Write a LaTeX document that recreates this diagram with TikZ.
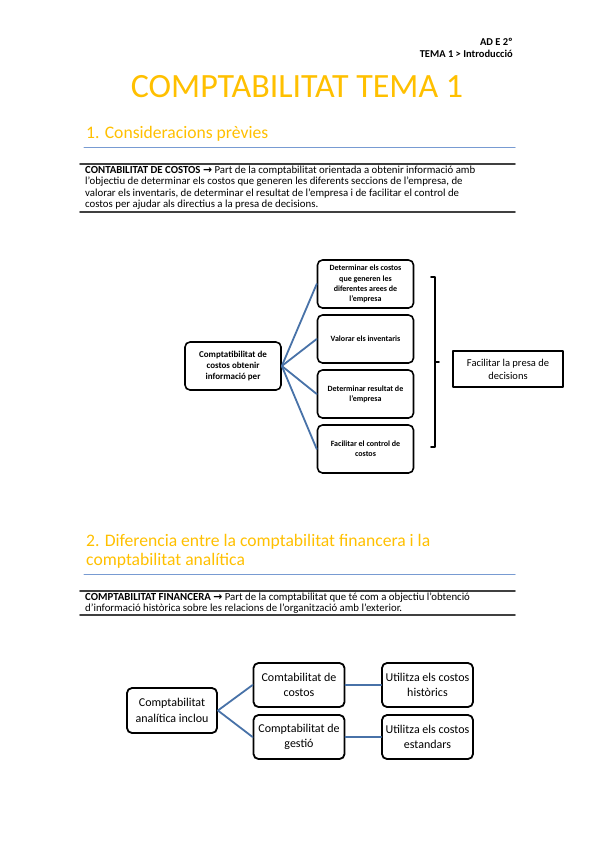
\documentclass[tikz,border=0pt]{standalone}
\usepackage{fontspec}
\setmainfont{Carlito}
\newfontfamily\symfont{DejaVu Sans}
\definecolor{titleyel}{RGB}{255,192,0}
\definecolor{rulblue}{RGB}{120,155,210}
\definecolor{linkblue}{RGB}{72,114,168}
\definecolor{rulgray}{RGB}{64,64,64}
\begin{document}
\begin{tikzpicture}[x=1pt,y=-1pt,line cap=round,line join=round,
  costbox/.style={draw=black,line width=1.6pt,rounded corners=5pt,inner sep=1pt,
    align=center,minimum width=96pt,minimum height=48pt,font=\fontsize{8}{10.3}\selectfont\bfseries},
  anbox/.style={draw=black,line width=1.8pt,rounded corners=5pt,inner sep=1pt,
    align=center,minimum width=91pt,minimum height=44pt,font=\fontsize{12}{15.5}\selectfont},
  link/.style={linkblue,line width=1.8pt},
  secthead/.style={anchor=base west,inner sep=0pt,text=titleyel,align=left,font=\fontsize{17.6}{18.5}\selectfont},
  bodytext/.style={anchor=north west,inner sep=0pt,align=left,font=\fontsize{10.8}{11.6}\selectfont}]
\useasboundingbox[fill=white] (0,0) rectangle (599,848);
% header
\node[anchor=base east,inner sep=0pt,font=\fontsize{10.5}{12}\selectfont\bfseries] (adegrade) at (513,46) {AD E 2º};
\node[anchor=base east,inner sep=0pt,font=\fontsize{10.5}{12}\selectfont\bfseries] (temaline) at (513,58) {TEMA 1 > Introducció};
\node[inner sep=0pt,text=titleyel,font=\fontsize{34}{40}\selectfont] (title) at (297,87) {COMPTABILITAT TEMA 1};
% section 1
\node[secthead] (sec1) at (86,139) {1. Consideracions prèvies};
\draw[rulblue,line width=1pt] (84,147) -- (515,147);
\draw[rulgray,line width=1.8pt] (80,164) -- (515,164);
\node[bodytext] (costdef) at (85,165.5) {\textbf{CONTABILITAT DE COSTOS} {\symfont\bfseries →} Part de la comptabilitat orientada a obtenir informació amb\\
l'objectiu de determinar els costos que generen les diferents seccions de l'empresa, de\\
valorar els inventaris, de determinar el resultat de l'empresa i de facilitar el control de\\
costos per ajudar als directius a la presa de decisions.};
\draw[rulgray,line width=1.8pt] (80,212) -- (515,212);
% diagram 1
\node[costbox,font=\fontsize{9}{11}\selectfont\bfseries] (c1) at (233,366) {Comptatibilitat de\\costos obtenir\\informació per};
\node[costbox] (d1) at (365.5,284) {Determinar els costos\\que generen les\\diferentes arees de\\l'empresa};
\node[costbox] (d2) at (365.5,339) {Valorar els inventaris};
\node[costbox] (d3) at (365.5,394) {Determinar resultat de\\l'empresa};
\node[costbox] (d4) at (365.5,449) {Facilitar el control de\\costos};
\foreach \d in {d1,d2,d3,d4}
  \draw[link] (c1.east) -- (\d.west);
\draw[line width=1.6pt] (431,277) -- (435,277) -- (435,447) -- (431,447);
\draw[line width=1.6pt] (435,362) -- (439,362);
\node[draw=black,line width=1.2pt,inner sep=1pt,align=center,minimum width=110pt,minimum height=36pt,
  font=\fontsize{10.5}{13}\selectfont] (fp) at (508,369) {Facilitar la presa de\\decisions};
% section 2
\node[secthead] (sec2) at (86,565) {2. Diferencia entre la comptabilitat financera i la\\comptabilitat analítica};
\draw[rulblue,line width=1pt] (84,574) -- (515,574);
\draw[rulgray,line width=1.8pt] (80,591) -- (515,591);
\node[bodytext] (findef) at (85,592.5) {\textbf{COMPTABILITAT FINANCERA} {\symfont\bfseries →} Part de la comptabilitat que té com a objectiu l'obtenció\\
d'informació històrica sobre les relacions de l'organització amb l'exterior.};
\draw[rulgray,line width=1.8pt] (80,615) -- (515,615);
% diagram 2
\node[anbox,minimum width=90pt,minimum height=45pt] (ca) at (172,710.5) {Comptabilitat\\analítica inclou};
\node[anbox] (cc) at (299,685) {Comtabilitat de\\costos};
\node[anbox] (cg) at (299,737) {Comptabilitat de\\gestió};
\node[anbox] (hc) at (427.5,685) {Utilitza els costos\\històrics};
\node[anbox] (ec) at (427.5,737) {Utilitza els costos\\estandars};
\draw[link] (ca.east) -- (cc.west);
\draw[link] (ca.east) -- (cg.west);
\draw[link] (cc.east) -- (hc.west);
\draw[link] (cg.east) -- (ec.west);
\end{tikzpicture}
\end{document}
